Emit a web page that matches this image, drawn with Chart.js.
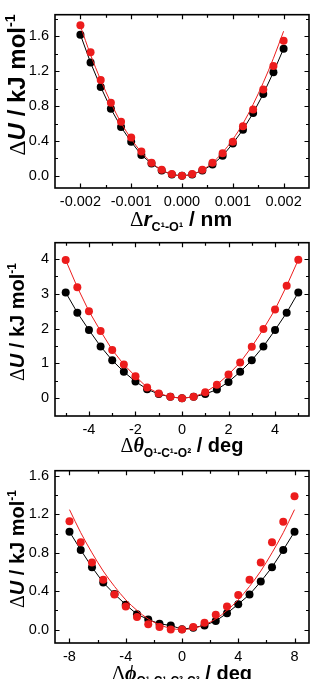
<!DOCTYPE html>
<html><head><meta charset="utf-8">
<script src="https://cdn.jsdelivr.net/npm/chart.js@4.4.1/dist/chart.umd.min.js"></script>
<style>
html,body{margin:0;padding:0;background:#fff;}
#wrap{position:relative;width:314px;height:679px;overflow:hidden;background:#fff;}
canvas{position:absolute;left:0;}
.t{position:absolute;white-space:nowrap;font-family:"Liberation Sans",Arial,sans-serif;font-weight:bold;color:#000;line-height:1;}
.g{font-family:"Liberation Serif","Times New Roman",serif;font-weight:normal;}
.gi{font-family:"Liberation Serif","Times New Roman",serif;font-style:italic;font-weight:bold;}
.i{font-style:italic;}
.sb{font-size:0.6em;position:relative;top:0.4em;line-height:0;}
.sp{font-size:0.6em;position:relative;top:-0.7em;line-height:0;}
.yt{transform:translate(-50%,-50%) rotate(-90deg);}
.xt{transform:translateX(-50%);}
</style></head>
<body>
<div id="wrap">
<canvas id="c1" width="314" height="230" style="top:0px"></canvas>
<canvas id="c2" width="314" height="228" style="top:228px"></canvas>
<canvas id="c3" width="314" height="230" style="top:456px"></canvas>

<div class="t yt" style="left:17px;top:85px;font-size:24px;"><span class="g">Δ</span><span class="i">U</span> / kJ mol<span class="sp">-1</span></div>
<div class="t xt" style="left:181px;top:208px;font-size:21px;"><span class="g">Δ</span><span class="i">r</span><span class="sb">C¹-O¹</span> / nm</div>

<div class="t yt" style="left:17px;top:322px;font-size:20px;"><span class="g">Δ</span><span class="i">U</span> / kJ mol<span class="sp">-1</span></div>
<div class="t xt" style="left:182px;top:435px;font-size:20px;"><span class="g">Δ</span><span class="gi">θ</span><span class="sb">O¹-C¹-O²</span> / deg</div>

<div class="t yt" style="left:17px;top:549px;font-size:20px;"><span class="g">Δ</span><span class="i">U</span> / kJ mol<span class="sp">-1</span></div>
<div class="t xt" style="left:182px;top:663px;font-size:20px;"><span class="g">Δ</span><span class="gi">ϕ</span><span class="sb">O¹-C¹-C²-C³</span> / deg</div>
</div>

<script>
// ---------- Panel 1 : bond stretch ----------
const p1X = [-0.002, -0.0018, -0.0016, -0.0014, -0.0012, -0.001, -0.0008, -0.0006, -0.0004, -0.0002, 0,
             0.0002, 0.0004, 0.0006, 0.0008, 0.001, 0.0012, 0.0014, 0.0016, 0.0018, 0.002];
const p1Black = [1.62, 1.30, 1.02, 0.77, 0.56, 0.39, 0.24, 0.14, 0.06, 0.015, 0,
                 0.015, 0.06, 0.13, 0.23, 0.37, 0.53, 0.72, 0.94, 1.19, 1.46];
const p1Red = [1.73, 1.42, 1.10, 0.84, 0.62, 0.44, 0.28, 0.15, 0.07, 0.02, 0,
               0.02, 0.07, 0.15, 0.26, 0.39, 0.57, 0.76, 0.99, 1.26, 1.55];
const p1Fit = [1.72, 1.39, 1.10, 0.84, 0.61, 0.425, 0.27, 0.152, 0.068, 0.017, 0,
               0.017, 0.067, 0.15, 0.268, 0.418, 0.60, 0.82, 1.07, 1.35, 1.66];
const p1XTicks = [-0.002, -0.001, 0, 0.001, 0.002];
const p1YTicks = [0, 0.4, 0.8, 1.2, 1.6];

// ---------- Panel 2 : angle bend ----------
const p2X = [-5, -4.5, -4, -3.5, -3, -2.5, -2, -1.5, -1, -0.5, 0, 0.5, 1, 1.5, 2, 2.5, 3, 3.5, 4, 4.5, 5];
const p2Black = [3.04, 2.46, 1.96, 1.49, 1.09, 0.76, 0.48, 0.26, 0.12, 0.04, 0,
                 0.04, 0.12, 0.25, 0.47, 0.76, 1.09, 1.49, 1.96, 2.46, 3.04];
const p2Red = [3.97, 3.19, 2.50, 1.93, 1.39, 0.97, 0.63, 0.31, 0.14, 0.04, 0,
               0.04, 0.17, 0.39, 0.68, 1.03, 1.48, 1.99, 2.55, 3.23, 3.98];
const p2XTicks = [-4, -2, 0, 2, 4];
const p2YTicks = [0, 1, 2, 3, 4];

// ---------- Panel 3 : torsion ----------
const p3X = [-8, -7.2, -6.4, -5.6, -4.8, -4, -3.2, -2.4, -1.6, -0.8, 0, 0.8, 1.6, 2.4, 3.2, 4, 4.8, 5.6, 6.4, 7.2, 8];
const p3Black = [1.02, 0.83, 0.65, 0.49, 0.37, 0.26, 0.16, 0.105, 0.06, 0.043, 0.003,
                 0.02, 0.043, 0.09, 0.17, 0.265, 0.365, 0.50, 0.65, 0.83, 1.02];
const p3Red = [1.13, 0.91, 0.70, 0.52, 0.365, 0.24, 0.13, 0.055, 0.026, 0.0, 0.0,
               0.026, 0.072, 0.155, 0.24, 0.36, 0.52, 0.70, 0.91, 1.125, 1.39];
const p3Fit = [1.25, 1.01, 0.80, 0.61, 0.45, 0.31, 0.20, 0.11, 0.05, 0.0125, 0,
               0.0125, 0.05, 0.11, 0.20, 0.31, 0.45, 0.61, 0.80, 1.01, 1.25];
const p3XTicks = [-8, -4, 0, 4, 8];
const p3YTicks = [0, 0.4, 0.8, 1.2, 1.6];

const RED = '#ec1c1c';
const BLACK = '#000000';

const pts = (xs, ys) => xs.map((x, i) => ({x: x, y: ys[i]}));

const framePlugin = {
  id: 'frameTicks',
  afterDatasetsDraw(chart) {
    const {ctx, chartArea: a} = chart;
    const xs = chart.scales.x, ys = chart.scales.y;
    ctx.save();
    ctx.strokeStyle = '#000';
    ctx.lineWidth = 1.2;
    xs.ticks.forEach(t => {
      const px = Math.round(xs.getPixelForValue(t.value)) + 0.5;
      if (px < a.left + 1 || px > a.right - 1) return;
      const len = t.label !== '' ? 4.5 : 3;
      ctx.beginPath();
      ctx.moveTo(px, a.bottom); ctx.lineTo(px, a.bottom - len);
      ctx.moveTo(px, a.top); ctx.lineTo(px, a.top + len);
      ctx.stroke();
    });
    ys.ticks.forEach(t => {
      const py = Math.round(ys.getPixelForValue(t.value)) + 0.5;
      if (py < a.top + 1 || py > a.bottom - 1) return;
      const len = t.label !== '' ? 4.5 : 3;
      ctx.beginPath();
      ctx.moveTo(a.left, py); ctx.lineTo(a.left + len, py);
      ctx.moveTo(a.right, py); ctx.lineTo(a.right - len, py);
      ctx.stroke();
    });
    ctx.lineWidth = 1.6;
    ctx.strokeRect(a.left, a.top, a.right - a.left, a.bottom - a.top);
    ctx.restore();
  }
};

function isMajor(v, list) {
  return list.some(m => Math.abs(m - v) < 1e-9);
}

function makeChart(id, o) {
  const datasets = [
    {data: pts(o.x, o.red), showLine: o.redLine, borderColor: RED, borderWidth: 1,
     backgroundColor: RED, pointRadius: 4, pointBorderWidth: 0, tension: 0, order: 0}
  ];
  if (o.fit) {
    datasets.push({data: pts(o.x, o.fit), showLine: true, borderColor: RED, borderWidth: 1,
      pointRadius: 0, tension: 0.4, cubicInterpolationMode: 'monotone', order: 1});
  }
  datasets.push({data: pts(o.x, o.black), showLine: true, borderColor: BLACK, borderWidth: 1,
    backgroundColor: BLACK, pointRadius: 4, pointBorderWidth: 0, tension: 0, order: 2});

  const tickFont = {family: '"Liberation Sans", Arial, sans-serif', size: 14.5};
  return new Chart(document.getElementById(id), {
    type: 'scatter',
    data: {datasets: datasets},
    plugins: [framePlugin],
    options: {
      responsive: false,
      animation: false,
      devicePixelRatio: 1,
      layout: {padding: {top: o.padTop, right: 5, left: 0, bottom: 0}},
      plugins: {legend: {display: false}, tooltip: {enabled: false}},
      scales: {
        x: {
          type: 'linear', min: o.xmin, max: o.xmax,
          grid: {display: false, drawTicks: false},
          border: {display: false},
          ticks: {
            stepSize: o.xstep, includeBounds: false, autoSkip: false, maxRotation: 0,
            padding: 5, color: '#000', font: tickFont,
            callback: v => isMajor(v, o.xTicks) ? o.xfmt(v) : ''
          },
          afterFit: s => { s.height = o.xH; }
        },
        y: {
          type: 'linear', min: o.ymin, max: o.ymax,
          grid: {display: false, drawTicks: false},
          border: {display: false},
          ticks: {
            stepSize: o.ystep, includeBounds: false, autoSkip: false,
            padding: 6, color: '#000', font: tickFont,
            callback: v => isMajor(v, o.yTicks) ? o.yfmt(v) : ''
          },
          afterFit: s => { s.width = 55; }
        }
      }
    }
  });
}

const f3 = v => (Math.round(v * 1000) / 1000 + 0).toFixed(3);
const f1 = v => (Math.round(v * 10) / 10 + 0).toFixed(1);
const f0 = v => String(Math.round(v) + 0);

makeChart('c1', {x: p1X, red: p1Red, black: p1Black, fit: p1Fit, redLine: false,
  xmin: -0.0025, xmax: 0.0025, xstep: 0.0005, xTicks: p1XTicks, xfmt: f3,
  ymin: -0.14, ymax: 1.85, ystep: 0.2, yTicks: p1YTicks, yfmt: f1,
  padTop: 6, xH: 42});

makeChart('c2', {x: p2X, red: p2Red, black: p2Black, fit: null, redLine: true,
  xmin: -5.46, xmax: 5.46, xstep: 1, xTicks: p2XTicks, xfmt: f0,
  ymin: -0.51, ymax: 4.47, ystep: 0.5, yTicks: p2YTicks, yfmt: f0,
  padTop: 7, xH: 40});

makeChart('c3', {x: p3X, red: p3Red, black: p3Black, fit: p3Fit, redLine: false,
  xmin: -9.03, xmax: 9.03, xstep: 2, xTicks: p3XTicks, xfmt: f0,
  ymin: -0.14, ymax: 1.656, ystep: 0.2, yTicks: p3YTicks, yfmt: f1,
  padTop: 5, xH: 43});
</script>
</body></html>
